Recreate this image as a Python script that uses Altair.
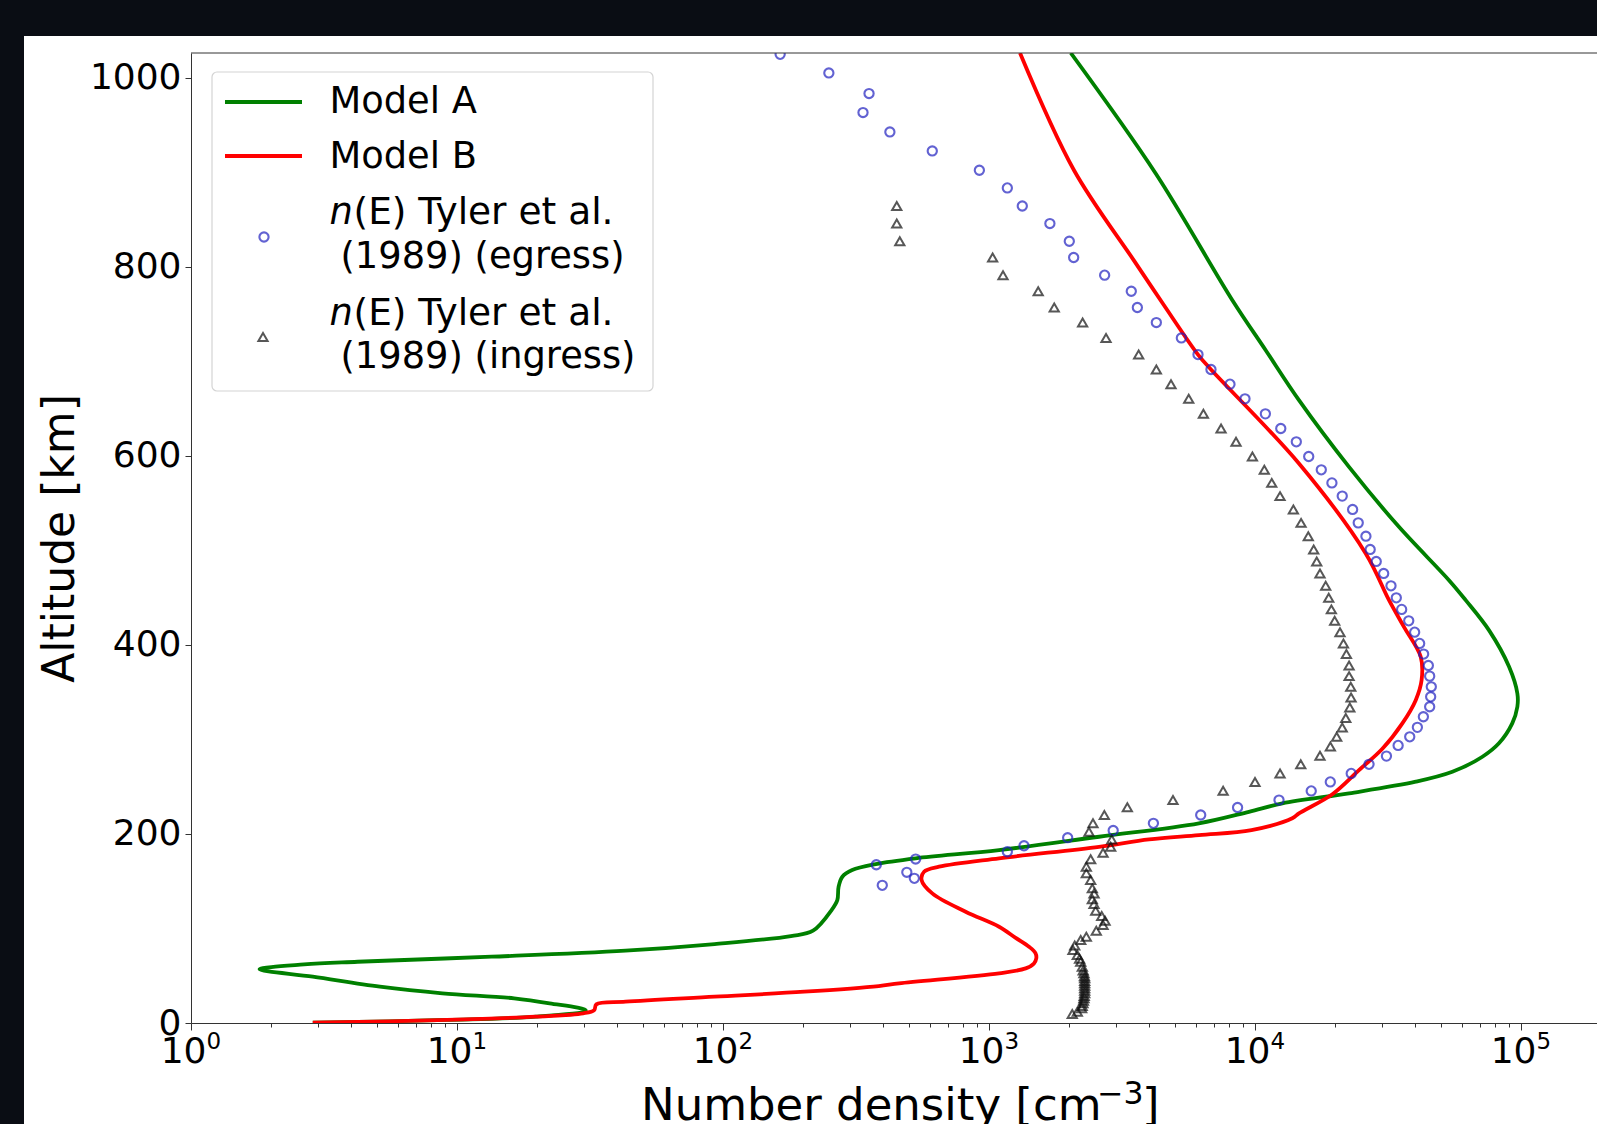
import altair as alt
import pandas as pd

# ---------------- data ----------------
model_a_alt = [0.3, 3.2, 6.7, 13.5, 20.8, 26.1, 31.4, 38.4, 49.0, 56.8, 62.0, 64.8, 70.1, 76.5,
               83.5, 92.0, 97.6, 119.5, 130.0, 144.1, 154.7, 161.8, 168.1, 174.2, 182.9, 197.0,
               211.2, 223.4, 232.3, 242.9, 255.2, 265.7, 281.6, 295.8, 316.9, 334.5, 348.6, 376.8,
               415.3, 447.3, 468.4, 524.8, 588.2, 658.8, 711.6, 764.5, 898.5, 1026.0]
model_a_n = [2.87, 9.17, 19.8, 30.5, 22.3, 16.4, 8.81, 5.13, 2.87, 1.81, 2.66, 4.23, 13.5, 43,
             93, 180, 218, 256, 269, 272, 281, 306, 375, 530, 1091, 2593,
             6152, 9490, 12680, 22560, 40200, 55200, 71600, 82600, 92700, 96900, 96900, 90200,
             75860, 61940, 53600, 34760, 22560, 14630, 10970, 8220, 4234, 2030]

model_b_alt = [0.3, 3.2, 6.7, 10.2, 13.7, 19.7, 22.5, 27.8, 33.1, 39.1, 42.0, 52.6, 57.8, 63.0,
               68.4, 74.0, 80.7, 90.0, 101.8, 117.7, 137.1, 151.2, 160.0, 165.3, 174.2, 186.4,
               194.2, 198.8, 204.0, 216.5, 221.7, 242.0, 267.5, 290.0, 316.9, 341.5, 362.7, 387.3,
               419.0, 447.3, 496.7, 591.8, 691.2, 707.0, 759.2, 806.4, 902.0, 1026.0]
model_b_n = [2.87, 9.17, 19.8, 29.8, 32.8, 33.4, 43, 93, 202, 385, 459, 1091, 1374, 1476,
             1506, 1495, 1414, 1260, 1091, 817, 612, 558, 570, 649, 1091, 2593,
             3997, 6152, 9700, 13810, 14630, 19540, 24600, 30120, 35800, 40200, 42300, 41970,
             36300, 31900, 26070, 14630, 6831, 6105, 4548, 3509, 2087, 1308]

egress_alt = [1024.6, 1004.9, 983.1, 963.0, 942.5, 922.4, 902.0, 883.3, 864.2, 845.6, 826.9,
              809.7, 791.0, 774.0, 756.8, 740.9, 724.6, 707.0, 691.2, 675.7, 660.2, 644.3,
              628.8, 614.7, 599.2, 585.1, 571.3, 557.3, 543.2, 529.0, 514.9, 500.9, 488.2,
              475.5, 462.4, 449.7, 437.5, 425.4, 413.4, 401.5, 390.2, 378.2, 366.9, 355.6,
              345.0, 334.5, 323.9, 312.7, 302.7, 293.6, 282.3, 273.6, 264.0, 255.0, 245.5,
              235.8, 228.0, 220.0, 211.2, 203.6, 196.0, 187.5, 181.1, 173.4, 167.4, 159.4,
              153.0, 145.6]
egress_n = [164, 250, 354, 336, 424, 612, 920, 1172, 1334, 1694, 2004,
            2081, 2721, 3427, 3612, 4257, 5286, 6105, 6831, 8052, 9170, 10940,
            12500, 14300, 15920, 17750, 19460, 21280, 23280, 24440, 26120, 27100, 28560,
            30460, 32450, 33980, 35590, 37840, 39830, 41590, 43050, 44840, 45360, 46000,
            45750, 45360, 42950, 40780, 38170, 34520, 31200, 26830, 23000, 19190, 16270,
            12310, 8600, 6250, 4150, 2930, 1976, 1354, 1172, 530, 377, 491,
            524, 397]

ingress_alt = [864.2, 845.6, 826.9, 809.7, 791.0, 774.0, 756.8, 740.9, 724.6, 707.1, 691.2,
               675.7, 660.2, 644.3, 628.8, 614.7, 599.2, 585.1, 571.3, 557.3, 543.2, 529.0,
               514.9, 500.9, 488.2, 475.5, 462.4, 449.7, 437.5, 425.4, 413.4, 401.5, 390.2,
               378.2, 366.9, 355.6, 344.4, 333.8, 322.5, 312.6, 302.7, 292.5, 282.8, 273.6,
               264.0, 254.8, 245.6, 235.8, 228.1, 220.0, 211.2, 202.3, 194.2, 186.4, 180.1,
               173.1, 165.3, 158.3, 151.2, 142.4, 137.1, 130.8, 125.8, 118.7, 113.1, 108.2,
               103.6, 97.6, 91.3, 87.8, 82.0, 77.2, 71.9, 68.0, 64.8, 59.6, 55.5, 52.6, 49.5,
               47.3, 44.5, 42.0, 39.5, 36.7, 34.0, 31.4, 28.5, 26.1, 23.5, 20.8, 18.0, 15.5,
               12.0, 9.5]
ingress_n = [450, 450, 462, 1032, 1129, 1531, 1759, 2249, 2754, 3653, 4257,
             4833, 5634, 6397, 7454, 8485, 9779, 10840, 11560, 12420, 13940, 14900,
             15860, 16620, 17060, 17550, 18440, 18930, 19370, 19930, 20870, 21500, 22060,
             22580, 22580, 22910, 22970, 22720, 21940, 21280, 20280, 19200, 17550, 14860,
             12420, 10000, 7589, 4917, 3312, 2714, 2460, 2376, 2893, 2867, 2684,
             2411, 2322, 2322, 2411, 2446, 2483, 2446, 2483, 2518, 2653, 2731,
             2684, 2531, 2322, 2212, 2100, 2069, 2148, 2190, 2212, 2243, 2260, 2275, 2285,
             2289, 2289, 2289, 2289, 2289, 2289, 2289, 2280, 2275, 2265, 2254, 2240, 2230,
             2148, 2056]

decade_values = [1, 10, 100, 1000, 10000, 100000]
decade_exponents = ["0", "1", "2", "3", "4", "5"]
y_tick_values = [0, 200, 400, 600, 800, 1000]

# ---------------- layout constants ----------------
W, H = 1406, 970
PAD = {"left": 191, "top": 53, "right": 0, "bottom": 101}
FONT = "DejaVu Sans"
GREEN, RED, BLUE, DARK = "#008000", "#ff0000", "#2020c0", "#111111"
TICK_FS = 36
LEG_FS = 36.8

df_a = pd.DataFrame({"n": model_a_n, "alt": model_a_alt})
df_b = pd.DataFrame({"n": model_b_n, "alt": model_b_alt})
df_e = pd.DataFrame({"n": egress_n, "alt": egress_alt})
df_i = pd.DataFrame({"n": ingress_n, "alt": ingress_alt})
df_dec = pd.DataFrame({"n": decade_values, "e": decade_exponents})
one = pd.DataFrame({"k": [0]})

tick_vals = [m * 10 ** k for k in range(0, 6) for m in range(1, 10) if m * 10 ** k <= 190000]
is_major = "abs(log(datum.value)/LN10 - round(log(datum.value)/LN10)) < 1e-6"

x_scale = alt.Scale(type="log", domain=[1, 10 ** (W / 266.0)], nice=False)
y_scale = alt.Scale(domain=[0, 1026], nice=False, zero=False)

x_axis = alt.Axis(
    values=tick_vals, labels=False,
    tickSize={"condition": {"test": is_major, "value": 7}, "value": 4},
    tickColor="#333", domainColor="#333", tickWidth=1, domainWidth=1,
    grid=False, title="", zindex=1,
)
y_axis = alt.Axis(
    values=y_tick_values, format="d",
    tickSize=6, tickColor="#333", domainColor="#333", tickWidth=1, domainWidth=1,
    labelFont=FONT, labelFontSize=TICK_FS, labelColor="black", labelPadding=4, grid=False,
    title="Altitude [km]", titleFont=FONT, titleFontSize=44, titleFontWeight="normal",
    titleColor="black", titleX=-118, titleY=H / 2, titleAngle=270,
    titleBaseline="alphabetic", zindex=1,
)

X = alt.X("n:Q", scale=x_scale, axis=x_axis)
Y = alt.Y("alt:Q", scale=y_scale, axis=y_axis)

# white figure background (dark page border on top/left as in the screenshot)
paper = alt.Chart(one).mark_rect(color="white", clip=False).encode(
    x=alt.value(24 - PAD["left"]), x2=alt.value(W + 20),
    y=alt.value(36 - PAD["top"]), y2=alt.value(H + PAD["bottom"] + 10),
)

line_a = alt.Chart(df_a).mark_line(color=GREEN, strokeWidth=3.8, clip=True,
                                   interpolate="catmull-rom").encode(
    x=X, y=Y, order=alt.Order("alt:Q"))
line_b = alt.Chart(df_b).mark_line(color=RED, strokeWidth=3.8, clip=True,
                                   interpolate="catmull-rom").encode(
    x=X, y=Y, order=alt.Order("alt:Q"))
pts_e = alt.Chart(df_e).mark_point(shape="circle", filled=False, color=BLUE,
                                    size=85, strokeWidth=2.1, clip=True).encode(x=X, y=Y)
pts_i = alt.Chart(df_i).mark_point(shape="triangle-up", filled=False, color=DARK,
                                    size=85, strokeWidth=2.0, clip=True).encode(x=X, y=Y)

top_rule = alt.Chart(one).mark_rule(color="#333", strokeWidth=1, clip=False).encode(
    x=alt.value(0), x2=alt.value(W + 5), y=alt.value(0))

# x tick labels in matplotlib mathtext style: "10" with a raised exponent
lab_base = alt.Chart(df_dec).mark_text(
    text="10", font=FONT, fontSize=TICK_FS, color="black", align="right", baseline="alphabetic",
    dx=15.5, clip=False).encode(x=alt.X("n:Q", scale=x_scale, axis=x_axis), y=alt.value(H + 40))
lab_exp = alt.Chart(df_dec).mark_text(
    font=FONT, fontSize=23, color="black", align="left", baseline="alphabetic",
    dx=15.5, clip=False).encode(x=alt.X("n:Q", scale=x_scale, axis=x_axis), y=alt.value(H + 26),
                                text="e:N")

def txt(s, x, y, size=LEG_FS, italic=False):
    return alt.Chart(one).mark_text(
        text=s, font=FONT, fontSize=size, color="black", align="left", baseline="alphabetic",
        fontStyle="italic" if italic else "normal", clip=False
    ).encode(x=alt.value(x), y=alt.value(y))

# x axis title with a mathtext-like superscript
xtitle = [
    txt("Number density [cm", 450, H + 97, size=45),
    txt("−3", 906, H + 81, size=31.5),
    txt("]", 951, H + 97, size=45),
]

# ---------------- hand-made legend (matplotlib style, upper left) ----------------
legend_box = alt.Chart(one).mark_rect(
    fill="white", fillOpacity=0.85, stroke="#d4d4d4", strokeWidth=1.2, cornerRadius=5, clip=False
).encode(x=alt.value(21), x2=alt.value(462), y=alt.value(19), y2=alt.value(338))

def seg(color, y):
    return alt.Chart(one).mark_rule(color=color, strokeWidth=3.8, clip=False).encode(
        x=alt.value(34), x2=alt.value(111), y=alt.value(y))

leg_e = alt.Chart(one).mark_point(shape="circle", filled=False, color=BLUE, size=85,
                                  strokeWidth=2.1, clip=False).encode(x=alt.value(73), y=alt.value(184))
leg_i = alt.Chart(one).mark_point(shape="triangle-up", filled=False, color=DARK, size=85,
                                  strokeWidth=2.0, clip=False).encode(x=alt.value(72), y=alt.value(284))

LX = 138.5
legend = [
    legend_box,
    seg(GREEN, 49), txt("Model A", LX, 60),
    seg(RED, 103), txt("Model B", LX, 115),
    leg_e, txt("n", LX, 171, italic=True), txt("(E) Tyler et al.", LX + 24, 171, size=37.5),
    txt("(1989) (egress)", LX + 11, 215),
    leg_i, txt("n", LX, 272, italic=True), txt("(E) Tyler et al.", LX + 24, 272, size=37.5),
    txt("(1989) (ingress)", LX + 11, 315),
]

chart = alt.layer(paper, line_a, line_b, pts_e, pts_i, top_rule, lab_base, lab_exp,
                  *xtitle, *legend).properties(
    width=W, height=H,
    padding=PAD,
    autosize=alt.AutoSizeParams(type="none"),
).configure(background="#0a0d14").configure_view(stroke=None)

chart.save("out.html", embed_options={"renderer": "svg", "actions": False})
